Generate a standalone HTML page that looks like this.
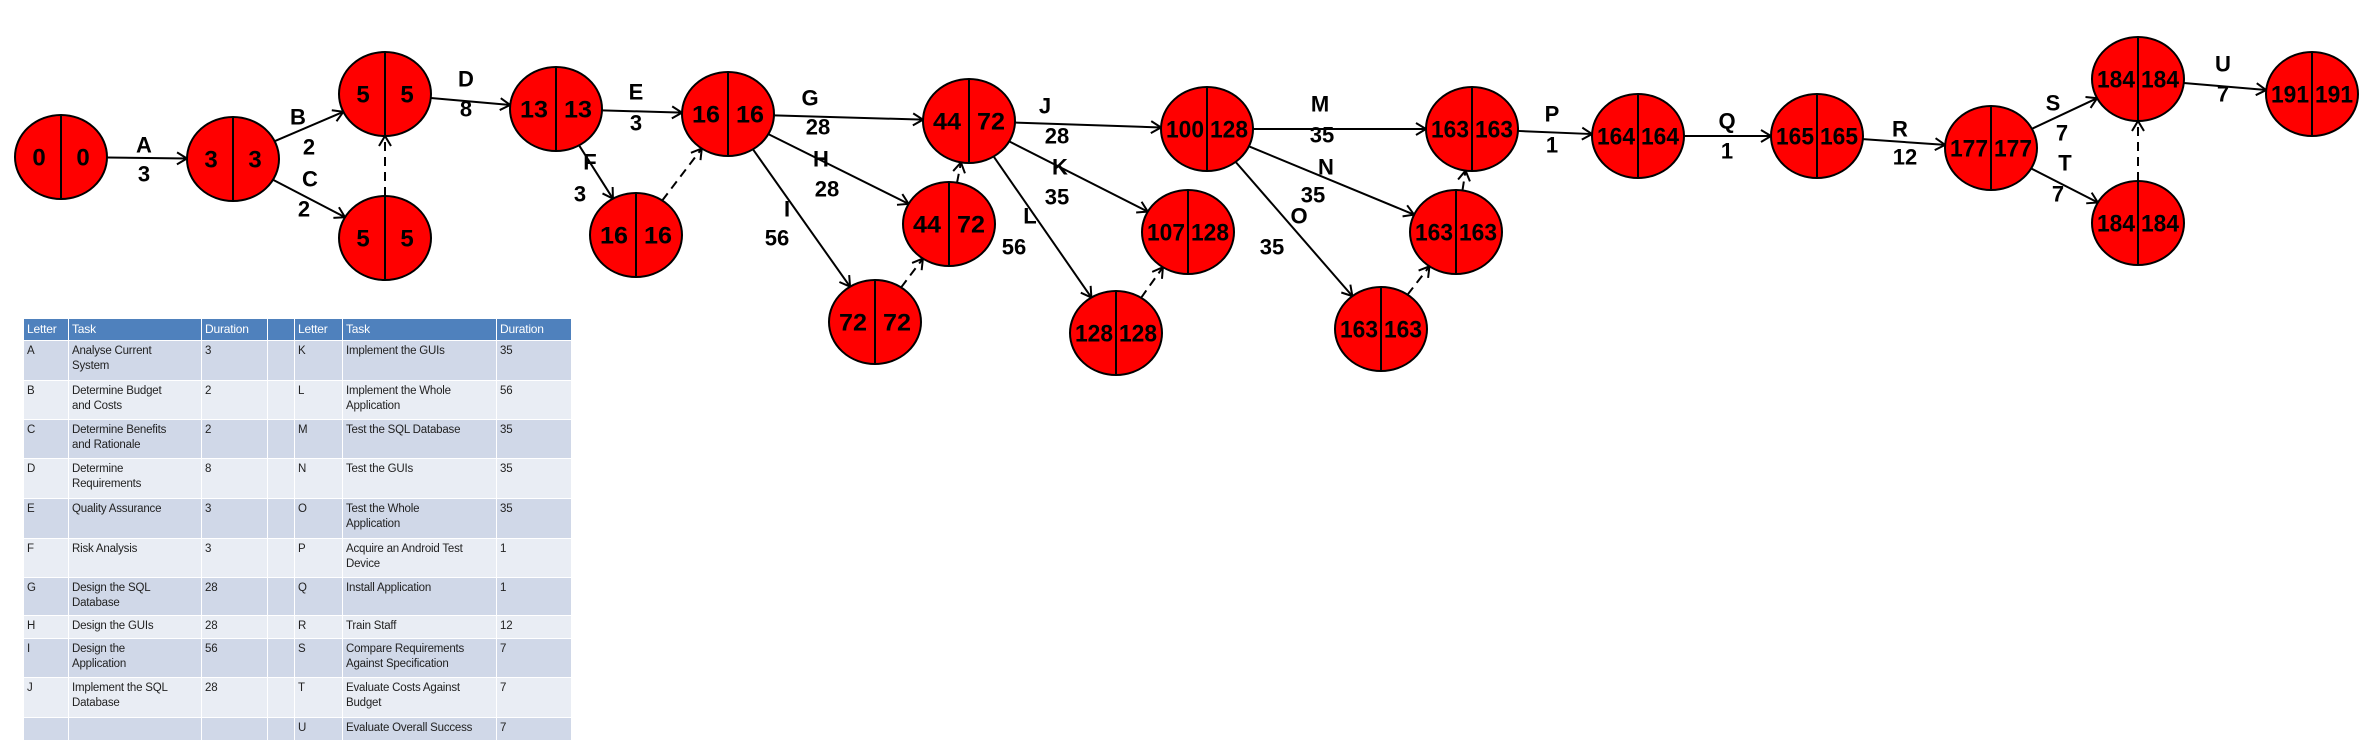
<!DOCTYPE html>
<html><head><meta charset="utf-8"><style>
html,body{margin:0;padding:0;background:#fff;width:2374px;height:750px;overflow:hidden}
svg{position:absolute;left:0;top:0}
table{position:absolute;left:23px;top:318px;border-collapse:collapse;font-family:"Liberation Sans",sans-serif;font-size:11.5px;color:#222;table-layout:fixed}
td,th{border:1.5px solid #fff;vertical-align:top;padding:3px 3px;line-height:15px;text-align:left;overflow:hidden;letter-spacing:-0.2px}
th{background:#4f81bd;color:#fff;font-weight:normal;height:13px;font-size:12px}
tr.o td{background:#d0d8e8}
tr.e td{background:#e9edf4}
</style></head><body>
<svg id="net" width="2374" height="750" xmlns="http://www.w3.org/2000/svg">
<defs><marker id="ah" markerWidth="14" markerHeight="14" refX="12" refY="7" orient="auto" markerUnits="userSpaceOnUse"><path d="M2,1 L12,7 L2,13" fill="none" stroke="#000" stroke-width="2"/></marker></defs>
<g id="edges"></g><g id="nodes"></g><g id="labels"></g>
</svg>
<table>
<colgroup><col style="width:45px"><col style="width:133px"><col style="width:66px"><col style="width:27px"><col style="width:48px"><col style="width:154px"><col style="width:75px"></colgroup>
<tr><th>Letter</th><th>Task</th><th>Duration</th><th></th><th>Letter</th><th>Task</th><th>Duration</th></tr>
<tr class="o" style="height:40px"><td>A</td><td>Analyse Current<br>System</td><td>3</td><td></td><td>K</td><td>Implement the GUIs</td><td>35</td></tr>
<tr class="e" style="height:39px"><td>B</td><td>Determine Budget<br>and Costs</td><td>2</td><td></td><td>L</td><td>Implement the Whole<br>Application</td><td>56</td></tr>
<tr class="o" style="height:39px"><td>C</td><td>Determine Benefits<br>and Rationale</td><td>2</td><td></td><td>M</td><td>Test the SQL Database</td><td>35</td></tr>
<tr class="e" style="height:40px"><td>D</td><td>Determine<br>Requirements</td><td>8</td><td></td><td>N</td><td>Test the GUIs</td><td>35</td></tr>
<tr class="o" style="height:40px"><td>E</td><td>Quality Assurance</td><td>3</td><td></td><td>O</td><td>Test the Whole<br>Application</td><td>35</td></tr>
<tr class="e" style="height:39px"><td>F</td><td>Risk Analysis</td><td>3</td><td></td><td>P</td><td>Acquire an Android Test<br>Device</td><td>1</td></tr>
<tr class="o" style="height:38px"><td>G</td><td>Design the SQL<br>Database</td><td>28</td><td></td><td>Q</td><td>Install Application</td><td>1</td></tr>
<tr class="e" style="height:23px"><td>H</td><td>Design the GUIs</td><td>28</td><td></td><td>R</td><td>Train Staff</td><td>12</td></tr>
<tr class="o" style="height:39px"><td>I</td><td>Design the<br>Application</td><td>56</td><td></td><td>S</td><td>Compare Requirements<br>Against Specification</td><td>7</td></tr>
<tr class="e" style="height:40px"><td>J</td><td>Implement the SQL<br>Database</td><td>28</td><td></td><td>T</td><td>Evaluate Costs Against<br>Budget</td><td>7</td></tr>
<tr class="o" style="height:23px"><td></td><td></td><td></td><td></td><td>U</td><td>Evaluate Overall Success</td><td>7</td></tr>
</table>
<script>
const nodeX=[61,233,385,385,556,636,728,969,949,875,1207,1188,1116,1472,1456,1381,1638,1817,1991,2138,2138,2312];
const nodeY=[157,159,94,238,109,235,114,121,224,322,129,232,333,129,232,329,136,136,148,79,223,94];
const earliest=[0,3,5,5,13,16,16,44,44,72,100,107,128,163,163,163,164,165,177,184,184,191];
const latest=[0,3,5,5,13,16,16,72,72,72,128,128,128,163,163,163,164,165,177,184,184,191];
const edgeFrom=[0,1,1,3,2,4,4,5,6,6,6,9,7,7,7,8,12,10,10,10,15,14,13,16,17,18,18,20,19];
const edgeTo=[1,2,3,2,4,6,5,6,7,8,9,8,10,11,12,7,11,13,14,15,14,13,16,17,18,19,20,19,21];
const edgeLetter=["A","B","C","","D","E","F","","G","H","I","","J","K","L","","","M","N","O","","","P","Q","R","S","T","","U"];
const edgeDur=["3","2","2","","8","3","3","","28","28","56","","28","35","56","","","35","35","35","","","1","1","12","7","7","","7"];
const letterX=[144,298,310,0,466,636,590,0,810,821,787,0,1045,1060,1030,0,0,1320,1326,1299,0,0,1552,1727,1900,2053,2065,0,2223];
const letterY=[145,117,179,0,79,92,162,0,98,159,209,0,106,167,216,0,0,104,167,216,0,0,114,121,129,103,163,0,64];
const durX=[144,309,304,0,466,636,580,0,818,827,777,0,1057,1057,1014,0,0,1322,1313,1272,0,0,1552,1727,1905,2062,2058,0,2223];
const durY=[174,147,209,0,109,123,194,0,127,189,238,0,136,197,247,0,0,135,195,247,0,0,145,151,157,133,194,0,94];
const RX=46,RY=42,NS="http://www.w3.org/2000/svg";
function mk(t,a){const e=document.createElementNS(NS,t);for(const k in a)e.setAttribute(k,a[k]);return e;}
function bnd(i,dx,dy){const L=Math.hypot(dx,dy),ux=dx/L,uy=dy/L;const t=1/Math.sqrt(ux*ux/(RX*RX)+uy*uy/(RY*RY));return [nodeX[i]+ux*t,nodeY[i]+uy*t];}
const eg=document.getElementById('edges'),ng=document.getElementById('nodes'),lg=document.getElementById('labels');
edgeFrom.forEach((f,k)=>{const t=edgeTo[k];const dx=nodeX[t]-nodeX[f],dy=nodeY[t]-nodeY[f];
 const p=bnd(f,dx,dy),q=bnd(t,-dx,-dy);
 const ln=mk('line',{x1:p[0],y1:p[1],x2:q[0],y2:q[1],stroke:'#000','stroke-width':2,'marker-end':'url(#ah)'});
 if(!edgeLetter[k])ln.setAttribute('stroke-dasharray','9,6');
 
 
 eg.appendChild(ln);
 if(edgeLetter[k]){
  const a=mk('text',{x:letterX[k],y:letterY[k],'text-anchor':'middle','dominant-baseline':'central','font-family':'Liberation Sans, sans-serif','font-weight':'bold','font-size':22});
  a.textContent=edgeLetter[k];
  
  
  lg.appendChild(a);
  const b=mk('text',{x:durX[k],y:durY[k],'text-anchor':'middle','dominant-baseline':'central','font-family':'Liberation Sans, sans-serif','font-weight':'bold','font-size':22});
  b.textContent=edgeDur[k];
  
  
  lg.appendChild(b);
 }
});
nodeX.forEach((x,i)=>{const y=nodeY[i];
 const g=mk('g',{});
 
 
 g.appendChild(mk('ellipse',{cx:x,cy:y,rx:RX,ry:RY,fill:'#ff0000',stroke:'#000','stroke-width':2}));
 g.appendChild(mk('line',{x1:x,y1:y-RY,x2:x,y2:y+RY,stroke:'#000','stroke-width':2}));
 [[earliest[i],x-22],[latest[i],x+22]].forEach(([v,tx])=>{
  const s=String(v);const o={x:tx,y:y+1,'text-anchor':'middle','dominant-baseline':'central','font-family':'Liberation Sans, sans-serif','font-weight':'bold','font-size':24};
  if(s.length>=3){o.textLength=38;o.lengthAdjust='spacingAndGlyphs';}
  else if(s.length==2){o.textLength=28;o.lengthAdjust='spacingAndGlyphs';}
  const t=mk('text',o);t.textContent=s;
  
  
  g.appendChild(t);});
 ng.appendChild(g);
});
</script>
</body></html>
